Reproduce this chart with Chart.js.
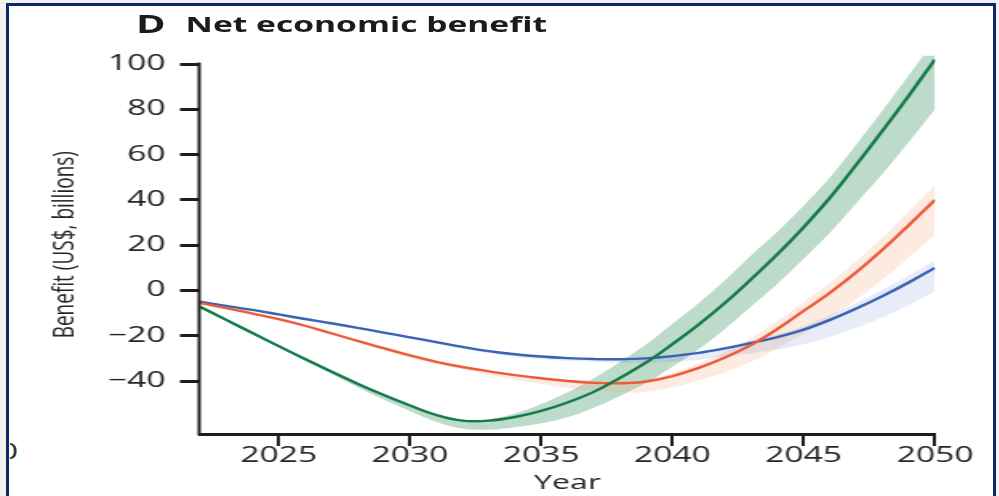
<!DOCTYPE html>
<html>
<head>
<meta charset="utf-8">
<script src="https://cdn.jsdelivr.net/npm/chart.js@4.4.1/dist/chart.umd.min.js"></script>
<style>
  html, body { margin: 0; padding: 0; }
  body { width: 999px; height: 496px; background: #f4f2ee; position: relative; overflow: hidden; font-family: "Open Sans", sans-serif; }
  #frame { position: absolute; left: 6px; top: 3px; width: 984px; height: 500px; background: #fff; border: 3px solid #0c2768; border-bottom: none; }
  /* the source picture is stretched sideways, so the whole panel is drawn narrow and scaled */
  #stretch { position: absolute; left: 0; top: 0; width: 624px; height: 496px; transform: scaleX(1.6); transform-origin: 0 0; }
  #letter { position: absolute; left: 85px; top: 11px; font-size: 25px; font-weight: 700; line-height: 1; color: #1b1b1b; }
  #title { position: absolute; left: 116px; top: 14px; font-size: 21px; font-weight: 700; line-height: 1; color: #1b1b1b; }
  canvas { position: absolute; left: 0; top: 0; }
  #cut { position: absolute; left: 10px; top: 441px; width: 12px; height: 30px; overflow: hidden; }
  #cut span { position: absolute; left: -11px; top: 0; font-size: 21px; line-height: 1; color: #333; transform: scaleX(1.6); transform-origin: 0 0; }
</style>
</head>
<body>
<div id="frame"></div>
<div id="cut"><span>0</span></div>
<div id="stretch">
  <div id="letter">D</div>
  <div id="title">Net economic benefit</div>
  <canvas id="benefitChart" width="624" height="496"></canvas>
</div>

<script>
// data (US$ billions per year)
const years = [2022, 2023, 2024, 2025, 2026, 2027, 2028, 2029, 2030, 2031, 2032, 2033, 2034, 2035,
  2036, 2037, 2038, 2039, 2040, 2041, 2042, 2043, 2044, 2045, 2046, 2047, 2048, 2049, 2050];

const greenMid = [-7.2, -13, -18.8, -24.6, -30.3, -35.8, -41.2, -46.2, -50.8, -55.0, -57.5, -57.5, -55.9, -53.2,
  -49.5, -44.8, -38.6, -31.8, -23.7, -15, -5.5, 5, 16, 28, 41, 55.5, 70.5, 86, 102];
const greenHigh = [-6.9, -12.7, -18.5, -24.3, -30.0, -35.5, -40.9, -45.9, -50.5, -54.7, -57.2, -57.0, -54.4, -50.2,
  -45.0, -38.8, -31.6, -23.8, -14.7, -5.5, 4.5, 15.5, 26, 37.5, 50, 64.5, 79.5, 95, 111];
const greenLow = [-7.7, -13.5, -19.3, -25.1, -30.8, -36.8, -42.7, -48.2, -53.3, -58.0, -61.0, -61.5, -60.4, -58.7,
  -56.0, -51.8, -46.6, -40.8, -33.7, -26, -17, -7, 3, 14, 25.5, 38.5, 51.5, 65.5, 80];

const redMid = [-5.6, -7.8, -10.2, -12.7, -15.6, -18.9, -22.3, -25.5, -28.7, -31.5, -33.8, -35.7, -37.4, -38.8,
  -40.0, -40.8, -41.0, -40.2, -37.8, -34.2, -29.6, -24, -17, -9, -1, 8, 18, 28.8, 40];
const redHigh = [-5.3, -7.5, -9.9, -12.4, -15.3, -18.6, -22.0, -25.2, -28.4, -31.2, -33.5, -35.4, -37.1, -38.5,
  -39.7, -40.0, -40.2, -39.4, -36.3, -32.2, -27.1, -21.0, -13.5, -5.0, 3.5, 13, 23.5, 34.8, 46.7];
const redLow = [-5.9, -8.1, -10.5, -13.0, -15.9, -19.2, -22.6, -26.5, -29.7, -32.5, -34.8, -37.2, -39.4, -41.3,
  -43.0, -44.3, -45.0, -44.7, -42.8, -39.7, -36.1, -31.5, -25.5, -19, -12, -4, 4.8, 14.5, 24.6];

const blueMid = [-5.0, -6.8, -8.6, -10.6, -12.6, -14.5, -16.5, -18.6, -20.7, -22.8, -24.9, -26.8, -28.2, -29.2,
  -29.9, -30.3, -30.4, -30.0, -29.0, -27.6, -25.6, -23.2, -20.6, -17.3, -13.0, -8.0, -2.5, 3.5, 10.0];
const blueHigh = [-4.7, -6.5, -8.3, -10.3, -12.3, -14.2, -16.2, -18.3, -20.4, -22.5, -24.6, -26.5, -27.9, -28.9,
  -29.6, -30.0, -30.1, -29.7, -28.7, -27.1, -24.8, -22.2, -19.3, -15.7, -11.0, -5.6, 0.3, 6.6, 13.4];
const blueLow = [-5.3, -7.1, -8.9, -10.9, -12.9, -14.8, -16.8, -19.4, -21.5, -23.6, -25.7, -27.6, -29.4, -30.4,
  -31.1, -31.5, -31.9, -32.0, -31.5, -30.6, -29.1, -27.7, -26.1, -23.8, -20.5, -16.5, -11.8, -6.5, -0.5];

const yTickValues = [-40, -20, 0, 20, 40, 60, 80, 100];
const xTickValues = [2025, 2030, 2035, 2040, 2045, 2050];

const axisColor = "#1d1d1d";
const textColor = "#242424";

function toPoints(vals) {
  return years.map((yr, i) => ({ x: yr, y: vals[i] }));
}

function lineSet(vals, color) {
  return {
    data: toPoints(vals),
    borderColor: color,
    borderWidth: 2.4,
    pointRadius: 0,
    fill: false,
    tension: 0.4
  };
}

function bandSet(vals, color, fill) {
  return {
    data: toPoints(vals),
    borderWidth: 0,
    borderColor: "rgba(0,0,0,0)",
    backgroundColor: color,
    pointRadius: 0,
    fill: fill,
    tension: 0.4
  };
}

// y axis line only runs up to the 100 tick, the bands may run a bit higher
const yAxisLine = {
  id: "yAxisLine",
  afterDraw(chart) {
    const ctx = chart.ctx;
    const area = chart.chartArea;
    const y = chart.scales.y;
    ctx.save();
    ctx.strokeStyle = axisColor;
    ctx.lineWidth = 2;
    ctx.beginPath();
    ctx.moveTo(area.left - 0.5, y.getPixelForValue(yTickValues[yTickValues.length - 1]) - 1.5);
    ctx.lineTo(area.left - 0.5, area.bottom + 1.5);
    ctx.stroke();
    ctx.restore();
  }
};

new Chart(document.getElementById("benefitChart"), {
  type: "line",
  data: {
    datasets: [
      lineSet(greenMid, "#147a4a"),
      lineSet(redMid, "#ec5b3b"),
      lineSet(blueMid, "#3b63b3"),
      bandSet(blueHigh, "rgba(100,120,210,0.15)", "+1"),
      bandSet(blueLow, "rgba(0,0,0,0)", false),
      bandSet(redHigh, "rgba(245,160,115,0.22)", "+1"),
      bandSet(redLow, "rgba(0,0,0,0)", false),
      bandSet(greenHigh, "rgba(35,135,80,0.3)", "+1"),
      bandSet(greenLow, "rgba(0,0,0,0)", false)
    ]
  },
  options: {
    responsive: false,
    animation: false,
    devicePixelRatio: 1,
    layout: { padding: { left: 0, right: 39.6, top: 55.4, bottom: 0 } },
    plugins: {
      legend: { display: false },
      tooltip: { enabled: false },
      filler: { drawTime: "beforeDatasetsDraw" }
    },
    scales: {
      x: {
        type: "linear",
        min: 2022,
        max: 2050,
        afterBuildTicks: s => { s.ticks = xTickValues.map(v => ({ value: v })); },
        afterFit: s => { s.height = 62; },
        border: { display: true, width: 3, color: axisColor },
        grid: { drawOnChartArea: false, tickLength: 12, tickWidth: 2, lineWidth: 2, color: axisColor },
        ticks: {
          padding: -3,
          maxRotation: 0,
          autoSkip: false,
          color: textColor,
          font: { family: "Open Sans", size: 21, weight: 500 },
          callback: v => String(v)
        },
        title: {
          display: true,
          text: "Year",
          color: textColor,
          font: { family: "Open Sans", size: 20, weight: 500 },
          padding: { top: 0, bottom: 1 }
        }
      },
      y: {
        type: "linear",
        min: -63.4,
        max: 103.8,
        afterBuildTicks: s => { s.ticks = yTickValues.map(v => ({ value: v })); },
        afterFit: s => { s.width = 125; },
        border: { display: false },
        grid: { drawOnChartArea: false, tickLength: 12.5, tickWidth: 3, lineWidth: 3, color: axisColor },
        ticks: {
          padding: 9,
          color: textColor,
          font: { family: "Open Sans", size: 21, weight: 500 },
          callback: v => (v < 0 ? "\u2212" + Math.abs(v) : String(v))
        },
        title: {
          display: true,
          text: "Benefit (US$, billions)",
          color: textColor,
          font: { family: "Open Sans", size: 19 },
          padding: { top: 29, bottom: 0 }
        }
      }
    }
  },
  plugins: [yAxisLine]
});
</script>
</body>
</html>
